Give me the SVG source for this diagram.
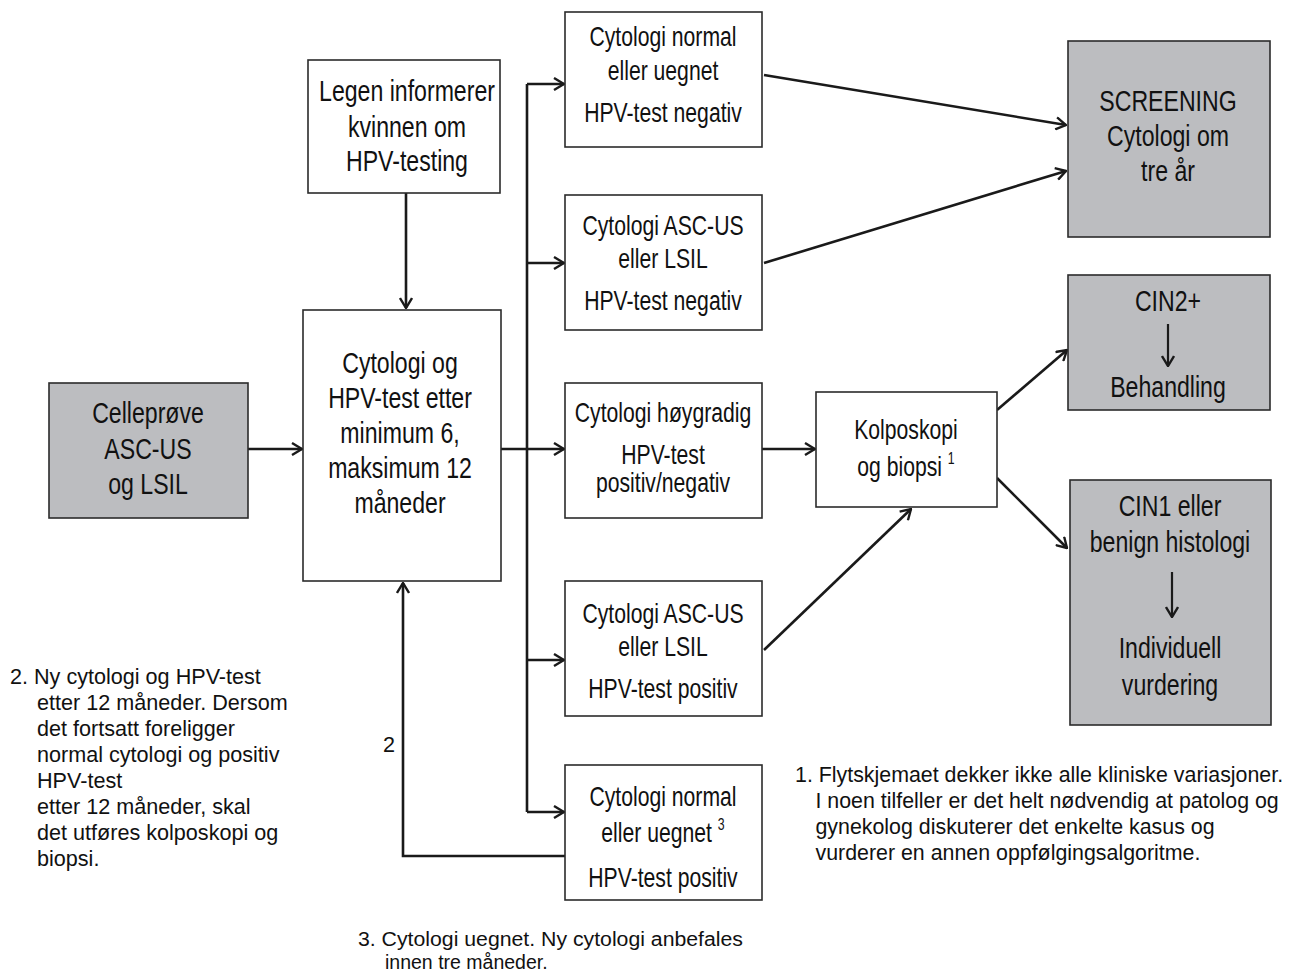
<svg xmlns="http://www.w3.org/2000/svg" width="1290" height="974" viewBox="0 0 1290 974">
<style>
  .box { fill: #ffffff; stroke: #2b2b2b; stroke-width: 1.6; }
  .gbox { fill: #bcbdc0; stroke: #2b2b2b; stroke-width: 1.6; }
  .t { font-family: "Liberation Sans", Arial, sans-serif; font-size: 30px; fill: #111111; text-anchor: middle; }
  .ts { font-family: "Liberation Sans", Arial, sans-serif; font-size: 27.5px; fill: #111111; text-anchor: middle; }
  .sup { font-size: 16px; }
  .note { font-family: "Liberation Sans", Arial, sans-serif; font-size: 21.6px; fill: #111111; }
  .note3 { font-family: "Liberation Sans", Arial, sans-serif; font-size: 19.5px; fill: #111111; }
  .note1 { font-family: "Liberation Sans", Arial, sans-serif; font-size: 23px; fill: #111111; }
  .c { fill: none; stroke: #1a1a1a; stroke-width: 2.6; }
  .ci { fill: none; stroke: #1a1a1a; stroke-width: 2.2; }
</style>
<defs>
  <marker id="ah" viewBox="0 0 12 14" refX="11" refY="7" markerWidth="12" markerHeight="14" markerUnits="userSpaceOnUse" orient="auto">
    <path d="M1,1 L11,7 L1,13" fill="none" stroke="#1a1a1a" stroke-width="2.4"/>
  </marker>
</defs>
<rect width="1290" height="974" fill="#ffffff"/>

<g id="connectors">
  <path class="c" d="M406,193 V308" marker-end="url(#ah)"/>
  <path class="c" d="M248,449 H302" marker-end="url(#ah)"/>
  <path class="c" d="M501,449 H564" marker-end="url(#ah)"/>
  <path class="c" d="M527,84 V812"/>
  <path class="c" d="M527,84 H564" marker-end="url(#ah)"/>
  <path class="c" d="M527,263 H564" marker-end="url(#ah)"/>
  <path class="c" d="M527,660 H564" marker-end="url(#ah)"/>
  <path class="c" d="M527,812 H564" marker-end="url(#ah)"/>
  <path class="c" d="M764,75 L1066,125" marker-end="url(#ah)"/>
  <path class="c" d="M764,263 L1066,171" marker-end="url(#ah)"/>
  <path class="c" d="M762,449 H815" marker-end="url(#ah)"/>
  <path class="c" d="M764,650 L911,509" marker-end="url(#ah)"/>
  <path class="c" d="M997,410 L1067,350" marker-end="url(#ah)"/>
  <path class="c" d="M997,478 L1067,548" marker-end="url(#ah)"/>
  <path class="c" d="M565,856 H403 V583" marker-end="url(#ah)"/>
  <text class="note" x="383" y="752">2</text>
</g>

<g id="n-celleprove">
  <rect class="gbox" x="49" y="383" width="199" height="135"/>
  <g transform="translate(148 0) scale(0.77 1)">
    <text class="t" x="0" y="423">Celleprøve</text>
    <text class="t" x="0" y="459">ASC-US</text>
    <text class="t" x="0" y="494">og LSIL</text>
  </g>
</g>

<g id="n-legen">
  <rect class="box" x="308" y="60" width="192" height="133"/>
  <g transform="translate(407 0) scale(0.77 1)">
    <text class="t" x="0" y="101">Legen informerer</text>
    <text class="t" x="0" y="137">kvinnen om</text>
    <text class="t" x="0" y="171">HPV-testing</text>
  </g>
</g>

<g id="n-main">
  <rect class="box" x="303" y="310" width="198" height="271"/>
  <g transform="translate(400 0) scale(0.77 1)">
    <text class="t" x="0" y="373">Cytologi og</text>
    <text class="t" x="0" y="408">HPV-test etter</text>
    <text class="t" x="0" y="443">minimum 6,</text>
    <text class="t" x="0" y="478">maksimum 12</text>
    <text class="t" x="0" y="513">måneder</text>
  </g>
</g>

<g id="n-b1">
  <rect class="box" x="565" y="12" width="197" height="135"/>
  <g transform="translate(663 0) scale(0.77 1)">
    <text class="ts" x="0" y="46">Cytologi normal</text>
    <text class="ts" x="0" y="80">eller uegnet</text>
    <text class="ts" x="0" y="122">HPV-test negativ</text>
  </g>
</g>

<g id="n-b2">
  <rect class="box" x="565" y="195" width="197" height="135"/>
  <g transform="translate(663 0) scale(0.77 1)">
    <text class="ts" x="0" y="235">Cytologi ASC-US</text>
    <text class="ts" x="0" y="268">eller LSIL</text>
    <text class="ts" x="0" y="310">HPV-test negativ</text>
  </g>
</g>

<g id="n-b3">
  <rect class="box" x="565" y="383" width="197" height="135"/>
  <g transform="translate(663 0) scale(0.77 1)">
    <text class="ts" x="0" y="422">Cytologi høygradig</text>
    <text class="ts" x="0" y="464">HPV-test</text>
    <text class="ts" x="0" y="492">positiv/negativ</text>
  </g>
</g>

<g id="n-b4">
  <rect class="box" x="565" y="581" width="197" height="135"/>
  <g transform="translate(663 0) scale(0.77 1)">
    <text class="ts" x="0" y="623">Cytologi ASC-US</text>
    <text class="ts" x="0" y="656">eller LSIL</text>
    <text class="ts" x="0" y="698">HPV-test positiv</text>
  </g>
</g>

<g id="n-b5">
  <rect class="box" x="565" y="765" width="197" height="135"/>
  <g transform="translate(663 0) scale(0.77 1)">
    <text class="ts" x="0" y="806">Cytologi normal</text>
    <text class="ts" x="0" y="842">eller uegnet <tspan class="sup" dy="-12">3</tspan></text>
    <text class="ts" x="0" y="887">HPV-test positiv</text>
  </g>
</g>

<g id="n-kolposkopi">
  <rect class="box" x="816" y="392" width="181" height="115"/>
  <g transform="translate(906 0) scale(0.77 1)">
    <text class="ts" x="0" y="439">Kolposkopi</text>
    <text class="ts" x="0" y="476">og biopsi <tspan class="sup" dy="-12">1</tspan></text>
  </g>
</g>

<g id="n-screening">
  <rect class="gbox" x="1068" y="41" width="202" height="196"/>
  <g transform="translate(1168 0) scale(0.77 1)">
    <text class="t" x="0" y="111">SCREENING</text>
    <text class="t" x="0" y="146">Cytologi om</text>
    <text class="t" x="0" y="181">tre år</text>
  </g>
</g>

<g id="n-cin2">
  <rect class="gbox" x="1068" y="275" width="202" height="135"/>
  <g transform="translate(1168 0) scale(0.77 1)">
    <text class="t" x="0" y="311">CIN2+</text>
    <text class="t" x="0" y="397">Behandling</text>
  </g>
  <path class="ci" d="M1168,324 V366" marker-end="url(#ah)"/>
</g>

<g id="n-cin1">
  <rect class="gbox" x="1070" y="480" width="201" height="245"/>
  <g transform="translate(1170 0) scale(0.77 1)">
    <text class="t" x="0" y="516">CIN1 eller</text>
    <text class="t" x="0" y="552">benign histologi</text>
    <text class="t" x="0" y="658">Individuell</text>
    <text class="t" x="0" y="695">vurdering</text>
  </g>
  <path class="ci" d="M1172,572 V617" marker-end="url(#ah)"/>
</g>

<g id="note2">
  <text class="note" x="10" y="684">2. Ny cytologi og HPV-test</text>
  <text class="note" x="37" y="710">etter 12 måneder. Dersom</text>
  <text class="note" x="37" y="736">det fortsatt foreligger</text>
  <text class="note" x="37" y="762">normal cytologi og positiv</text>
  <text class="note" x="37" y="788">HPV-test</text>
  <text class="note" x="37" y="814">etter 12 måneder, skal</text>
  <text class="note" x="37" y="840">det utføres kolposkopi og</text>
  <text class="note" x="37" y="866">biopsi.</text>
</g>

<g id="note3">
  <text class="note3" x="358" y="946" textLength="385" lengthAdjust="spacingAndGlyphs">3. Cytologi uegnet. Ny cytologi anbefales</text>
  <text class="note3" x="385" y="969">innen tre måneder.</text>
</g>

<g id="note1" transform="translate(795 0) scale(0.93 1)">
  <text class="note1" x="0" y="782">1. Flytskjemaet dekker ikke alle kliniske variasjoner.</text>
  <text class="note1" x="22" y="808">I noen tilfeller er det helt nødvendig at patolog og</text>
  <text class="note1" x="22" y="834">gynekolog diskuterer det enkelte kasus og</text>
  <text class="note1" x="22" y="860">vurderer en annen oppfølgingsalgoritme.</text>
</g>
</svg>
